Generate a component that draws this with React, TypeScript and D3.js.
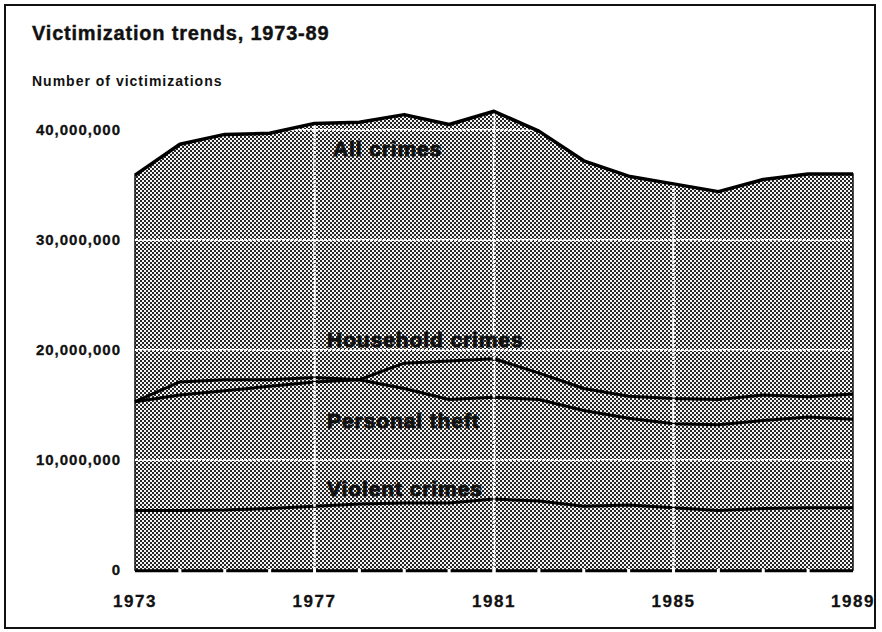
import * as d3 from 'd3'

// values in millions of victimizations
const years = [1973, 1974, 1975, 1976, 1977, 1978, 1979, 1980, 1981, 1982, 1983, 1984, 1985, 1986, 1987, 1988, 1989]
const allCrimes = [35.9, 38.7, 39.6, 39.7, 40.6, 40.7, 41.4, 40.5, 41.7, 39.9, 37.2, 35.8, 35.1, 34.4, 35.5, 36.0, 36.0]
const householdCrimes = [15.3, 17.1, 17.3, 17.3, 17.5, 17.3, 18.8, 19.0, 19.2, 17.9, 16.5, 15.8, 15.6, 15.5, 15.9, 15.75, 16.0]
const personalTheft = [15.3, 15.9, 16.3, 16.7, 17.1, 17.3, 16.5, 15.5, 15.7, 15.5, 14.5, 13.8, 13.3, 13.2, 13.6, 13.9, 13.7]
const violentCrimes = [5.4, 5.4, 5.45, 5.6, 5.8, 6.0, 6.1, 6.1, 6.45, 6.27, 5.8, 5.9, 5.65, 5.4, 5.6, 5.65, 5.65]

const yTicks = [0, 10, 20, 30, 40]
const xTicks = [1973, 1977, 1981, 1985, 1989]
const gridYears = [1977, 1981, 1985]

const seriesLabels = [
  { text: 'All crimes', year: 1977.41, value: 37.6 },
  { text: 'Household crimes', year: 1977.28, value: 20.3 },
  { text: 'Personal theft', year: 1977.28, value: 12.9 },
  { text: 'Violent crimes', year: 1977.28, value: 6.7 },
]

const W = 882
const H = 632
const font = "'Liberation Sans', Arial, Helvetica, sans-serif"

export default function App() {
  const x = d3.scaleLinear().domain([1973, 1989]).range([135, 853])
  const y = d3.scaleLinear().domain([0, 40]).range([570, 130])

  const pts = (vals: number[]) => years.map((yr, i) => [yr, vals[i]] as [number, number])

  const line = d3.line<[number, number]>()
    .x(d => x(d[0]))
    .y(d => y(d[1]))

  const area = d3.area<[number, number]>()
    .x(d => x(d[0]))
    .y0(y(0))
    .y1(d => y(d[1]))

  const allPts = pts(allCrimes)

  return (
    <svg
      width={W}
      height={H}
      style={{ position: 'absolute', left: 0, top: 0, background: '#fff' }}
      fontFamily={font}
    >
      <defs>
        <pattern id="dither" width="4" height="4" patternUnits="userSpaceOnUse">
          <rect width="4" height="4" fill="#f4f4f4" />
          <rect x="0" y="0" width="2" height="2" fill="#262626" />
          <rect x="2" y="2" width="2" height="2" fill="#262626" />
        </pattern>
        <clipPath id="areaClip">
          <path d={area(allPts) || ''} />
        </clipPath>
      </defs>

      <rect x={5} y={5} width={870} height={623} fill="none" stroke="#111" strokeWidth={2} />

      <text x={32} y={40} fontSize={20} fontWeight="bold" letterSpacing={0.8} fill="#111" stroke="#111" strokeWidth={0.4}>
        Victimization trends, 1973-89
      </text>
      <text x={32} y={86} fontSize={14} fontWeight="bold" letterSpacing={1} fill="#111">
        Number of victimizations
      </text>

      {/* filled area of all crimes */}
      <path d={area(allPts) || ''} fill="url(#dither)" stroke="#111" strokeWidth={1.5} />

      {/* component lines */}
      {[householdCrimes, personalTheft, violentCrimes].map((vals, i) => (
        <path key={i} d={line(pts(vals)) || ''} fill="none" stroke="#000" strokeWidth={3} strokeLinejoin="round" />
      ))}

      {/* baseline */}
      <line x1={x(1973)} x2={x(1989)} y1={y(0) + 1} y2={y(0) + 1} stroke="#000" strokeWidth={2.5} />
      {years.slice(1, -1).map(yr => (
        <rect key={yr} x={x(yr) - 1.5} y={y(0) - 1} width={3} height={4} fill="#fff" />
      ))}

      {/* white grid inside the area */}
      <g clipPath="url(#areaClip)">
        {yTicks.filter(t => t > 0).map(t => (
          <line key={t} x1={x(1973)} x2={x(1989)} y1={y(t)} y2={y(t)} stroke="#fff" strokeWidth={2} strokeDasharray="3,1.2" />
        ))}
        {gridYears.map(yr => (
          <line key={yr} x1={x(yr)} x2={x(yr)} y1={y(0) + 4} y2={y(45)} stroke="#fff" strokeWidth={2.5} strokeDasharray="3,1.2" />
        ))}
      </g>
      {gridYears.map(yr => (
        <line key={'b' + yr} x1={x(yr)} x2={x(yr)} y1={y(0) - 2} y2={y(0) + 4} stroke="#fff" strokeWidth={3} />
      ))}

      {/* all crimes top line */}
      <path d={line(allPts) || ''} fill="none" stroke="#000" strokeWidth={3.5} strokeLinejoin="round" />

      {/* series labels */}
      {seriesLabels.map(l => (
        <text key={l.text} x={x(l.year)} y={y(l.value)} fontSize={21} fontWeight="bold" letterSpacing={0.9} fill="#111" stroke="#111" strokeWidth={0.9}>
          {l.text}
        </text>
      ))}

      {/* y axis labels */}
      {yTicks.map(t => (
        <text key={t} x={121} y={y(t) + 5} textAnchor="end" fontSize={15} fontWeight="bold" letterSpacing={1} fill="#111" stroke="#111" strokeWidth={0.3}>
          {t === 0 ? '0' : d3.format(',')(t * 1000000)}
        </text>
      ))}

      {/* x axis labels */}
      {xTicks.map(t => (
        <text key={t} x={x(t)} y={607} textAnchor="middle" fontSize={17} fontWeight="bold" letterSpacing={1.5} fill="#111" stroke="#111" strokeWidth={0.3}>
          {t}
        </text>
      ))}
    </svg>
  )
}
